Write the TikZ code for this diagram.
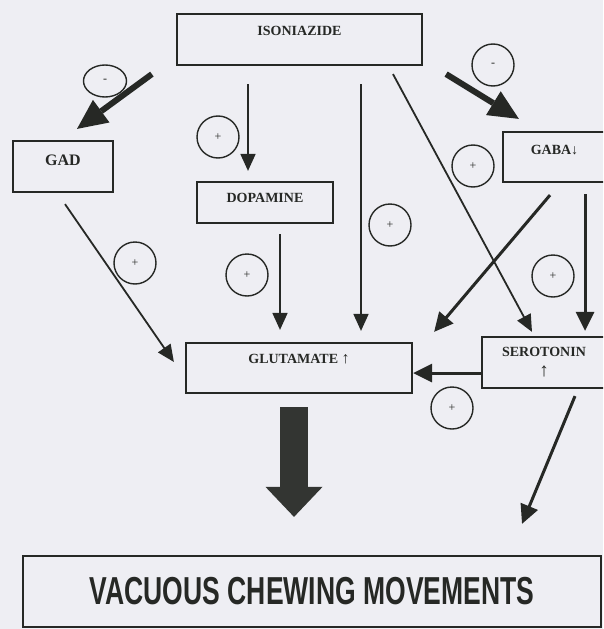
\documentclass[tikz,border=0pt]{standalone}
\usepackage{fontspec}
\setmainfont{Liberation Serif}
\newfontfamily\vcmfont[FakeStretch=0.68]{Liberation Sans}
\usepackage{xcolor}
\usepackage{tikz}
\usetikzlibrary{arrows.meta,shapes.geometric}
\definecolor{ScanInk}{HTML}{262825}
\definecolor{ScanPaper}{HTML}{EEEEF3}
\definecolor{ScanBlock}{HTML}{333532}
\tikzset{
  box/.style={draw=ScanInk, line width=2.2pt, inner sep=0pt, text=ScanInk,
              font=\fontsize{14}{16}\selectfont\bfseries},
  sign/.style={circle, draw=ScanInk, line width=1.4pt, minimum size=42pt,
               inner sep=0pt, text=ScanInk, font=\fontsize{12}{12}\selectfont},
  flow/.style={-{Triangle[length=17pt,width=15pt]}, line width=1.8pt, draw=ScanInk},
  strongflow/.style={-{Triangle[length=19pt,width=18pt]}, line width=3pt, draw=ScanInk},
  heavyflow/.style={-{Triangle[length=30pt,width=28pt,line width=0pt]}, line width=6pt,
                    draw=ScanInk},
  blockflow/.style={-{Triangle[length=30pt,width=57pt,line width=0pt]}, line width=28pt,
                    draw=ScanBlock}
}
\begin{document}
\begin{tikzpicture}[x=1pt, y=-1pt]
  \useasboundingbox (0,0) rectangle (603,629);
  \clip (0,0) rectangle (603,629);
  \fill[ScanPaper] (0,0) rectangle (603,629);

  \node[box, minimum width=245pt, minimum height=51pt, text height=21.6pt, text depth=29.4pt]
    (iso) at (299.5,39.5) {ISONIAZIDE};
  \node[box, minimum width=100pt, minimum height=51pt, text height=24.3pt, text depth=26.7pt,
        font=\fontsize{16}{18}\selectfont\bfseries] (gad) at (63,166.5) {GAD};
  \node[box, minimum width=136pt, minimum height=41pt, text height=20.6pt, text depth=20.4pt]
    (dop) at (265,202.5) {DOPAMINE};
  \node[box, minimum width=103pt, minimum height=50pt, text height=22.6pt, text depth=27.4pt]
    (gaba) at (554.5,157) {GABA↓};
  \node[box, minimum width=226pt, minimum height=50pt, text height=20.6pt, text depth=29.4pt]
    (glut) at (299,368) {GLUTAMATE {\fontsize{16}{16}\selectfont↑}};
  \node[box, minimum width=124pt, minimum height=51pt, align=center,
        font=\fontsize{14}{20}\selectfont\bfseries] (sero) at (544,362.5)
    {SEROTONIN\\{\fontsize{19}{19}\selectfont↑}};
  \node[box, minimum width=578pt, minimum height=71pt,
        font=\vcmfont\fontsize{39}{39}\selectfont\bfseries] (vcm) at (312,591.5)
    {VACUOUS CHEWING MOVEMENTS};

  \node[sign, ellipse, minimum width=43pt, minimum height=32pt] (mgad) at (105,81) {-};
  \node[sign] (mgaba) at (493,65) {-};
  \node[sign] (pdop) at (218,137) {+};
  \node[sign] (pgad) at (135,263) {+};
  \node[sign] (pdglu) at (247,275) {+};
  \node[sign] (piglu) at (390,225) {+};
  \node[sign] (pisero) at (473,166) {+};
  \node[sign] (pgsero) at (553,276) {+};
  \node[sign] (psglu) at (452,408) {+};

  \draw[heavyflow] ([shift={(-24,8)}]iso.south west) -- ([shift={(14,-11)}]gad.north);
  \draw[heavyflow] ([shift={(23,8)}]iso.south east) -- ([shift={(17,-12)}]gaba.north west);
  \draw[flow] ([shift={(-51.5,18)}]iso.south) -- ([shift={(-17,-10)}]dop.north);
  \draw[flow] ([shift={(61.5,18)}]iso.south) -- ([shift={(62,-11)}]glut.north);
  \draw[flow] ([shift={(93.5,8)}]iso.south) -- ([shift={(-12,-4)}]sero.north);
  \draw[flow] ([shift={(15,10)}]dop.south) -- ([shift={(-19,-12)}]glut.north);
  \draw[flow] ([shift={(2,11)}]gad.south) -- ([shift={(-11,-6)}]glut.west);
  \draw[strongflow] ([shift={(-4.5,12)}]gaba.south) -- ([shift={(21,-10)}]glut.north east);
  \draw[strongflow] ([shift={(30.5,11)}]gaba.south) -- ([shift={(41,-5)}]sero.north);
  \draw[strongflow] ([shift={(0,10.5)}]sero.west) -- ([shift={(0,5)}]glut.east);
  \draw[strongflow] ([shift={(31,7)}]sero.south) -- ([shift={(210,-31)}]vcm.north);
  \draw[blockflow] ([shift={(-5,13)}]glut.south) -- ([shift={(-18,-38)}]vcm.north);
\end{tikzpicture}
\end{document}
